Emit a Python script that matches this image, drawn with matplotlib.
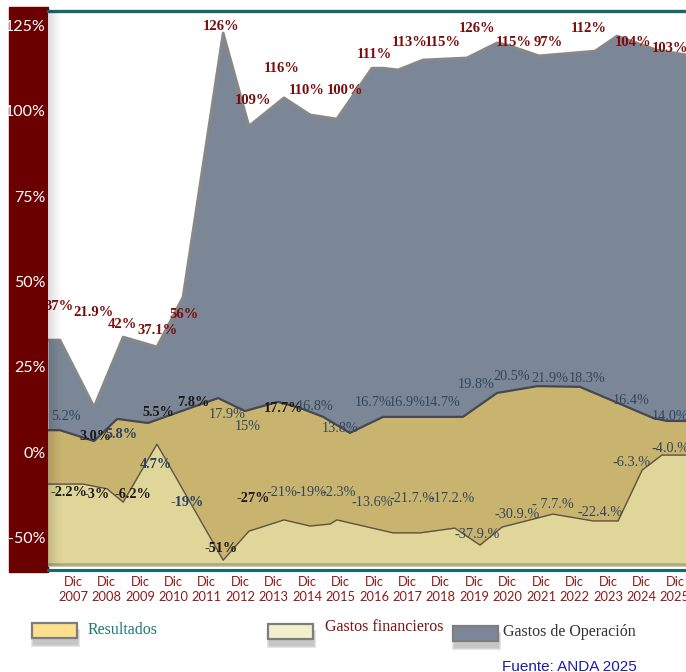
import numpy as np
import matplotlib
matplotlib.use('Agg')
import matplotlib.pyplot as plt
from matplotlib.patches import Rectangle
from matplotlib.lines import Line2D

# Tamaño en pixeles de la imagen
W, H = 686, 672

# Años del eje x
anos = list(range(2007, 2026))

# Gastos de Operación (área gris), x en posición de año (0 = Dic 2007)
gop_x = [-0.75, -0.39, 0.63, 1.50, 2.51, 3.29, 4.49, 5.26, 6.31, 7.09, 7.89, 8.94,
         9.27, 9.72, 10.47, 11.78, 12.68, 12.98, 13.94, 15.61, 16.27, 17.46, 18.33]
gop_y = [32.8, 32.8, 13.2, 33.7, 30.8, 45.4, 122.8, 95.5, 103.8, 98.8, 97.6, 112.5,
         112.5, 112.0, 114.9, 115.5, 119.9, 119.3, 116.1, 117.5, 121.9, 117.8, 116.4]

# Resultados
res_x = [-0.75, -0.39, 0.63, 1.32, 2.24, 4.34, 5.14, 6.13, 6.79, 7.48, 8.28, 9.27,
         11.66, 12.68, 13.88, 15.16, 17.34, 17.76, 18.33]
res_y = [6.4, 6.4, 3.2, 9.7, 8.5, 15.8, 12.0, 14.7, 12.9, 10.3, 5.6, 10.3,
         10.3, 17.3, 19.3, 19.1, 10.0, 9.1, 9.1]

# Gastos financieros
fin_x = [-0.75, 0.30, 1.02, 1.50, 2.51, 4.49, 5.26, 6.31, 7.09, 7.69, 7.89, 9.57,
         10.38, 11.42, 12.17, 12.83, 14.35, 15.55, 16.30, 17.02, 17.61, 18.33]
fin_y = [-9.4, -9.4, -10.8, -14.7, 2.3, -31.7, -23.2, -19.9, -21.7, -21.1, -19.9, -23.7,
         -23.7, -22.3, -27.3, -22.0, -18.2, -20.2, -20.2, -5.3, -0.9, -0.9]

# Etiquetas de cada serie (una por año)
gop_etiquetas = ['37%', '21.9%', '42%', '37.1%', '56%', '126%', '109%', '116%', '110%', '100%',
                 '111%', '113%', '115%', '126%', '115%', '97%', '112%', '104%', '103%']
res_etiquetas = ['5.2%', '3.0%', '5.8%', '5.5%', '7.8%', '17.9%', '15%', '17.7%', '16.8%', '13.8%',
                 '16.7%', '16.9%', '14.7%', '19.8%', '20.5%', '21.9%', '18.3%', '16.4%', '14.0%']
fin_etiquetas = ['-2.2%', '-3%', '-6.2%', '4.7%', '-19%', '-51%', '-27%', '-21%', '-19%', '-2.3%',
                 '-13.6%', '-21.7.%', '-17.2.%', '-37.9.%', '-30.9.%', '- 7.7.%', '-22.4.%', '-6.3.%', '-4.0.%']

# Eje y
y_ticks = [125, 100, 75, 50, 25, 0, -25]
y_etiquetas = ['125%', '100%', '75%', '50%', '25%', '0%', '-50%']

# posiciones de las etiquetas en pixeles de la imagen
gop_pos = [(59, 306), (94, 313), (122, 325), (158, 330), (184, 314), (221, 27), (253, 100),
           (282, 69), (307, 90), (345, 90), (374, 55), (410, 43), (443, 43), (477, 29),
           (514, 42), (548, 42), (589, 28), (633, 43), (670, 48)]
res_pos = [(66, 416), (95, 437), (122, 435), (158, 413), (193, 403), (227, 415), (248, 426),
           (284, 409), (315, 407), (340, 429), (373, 402), (407, 402), (442, 403), (476, 384),
           (512, 376), (550, 379), (587, 379), (631, 400), (670, 416)]
fin_pos = [(69, 493), (97, 494), (133, 494), (156, 464), (187, 503), (221, 548), (253, 498),
           (282, 493), (311, 493), (339, 493), (372, 502), (412, 498), (452, 499), (477, 535),
           (517, 514), (553, 504), (600, 512), (632, 462), (670, 448)]
res_negrita = {1: '#1a1a1a', 3: '#1a1a1a', 4: '#1a1a1a', 7: '#1a1a1a', 2: '#2b4060'}
fin_negrita = {0: '#1a1a1a', 1: '#1a1a1a', 2: '#1a1a1a', 5: '#1a1a1a', 6: '#1a1a1a',
               3: '#2b4060', 4: '#2b4060'}

serif = 'Liberation Serif'

fig = plt.figure(figsize=(W / 100, H / 100), dpi=100)


def fx(px):
    return px / W


def fy(py):
    return 1 - py / H


# conversion de pixeles a datos
def dx(px):
    return (px - 73) / 33.44


def dy(py):
    return (452 - py) / 3.412


ymin, ymax = dy(566), dy(11)

# banda roja del eje y
fig.add_artist(Rectangle((fx(9), fy(572)), fx(48) - fx(9), fy(7) - fy(572),
                         transform=fig.transFigure, color='#6b0000', zorder=-1))

ax = fig.add_axes([fx(48), fy(566), fx(686) - fx(48), fy(11) - fy(566)])

ax.fill_between(gop_x, gop_y, ymin, color='#7b8796', zorder=1, lw=0)
ax.plot(gop_x, gop_y, color='#888888', lw=2, zorder=2)
ax.fill_between(res_x, res_y, ymin, color='#c9b46f', zorder=3, lw=0)
ax.plot(res_x, res_y, color='#474752', lw=1.6, zorder=4)
ax.fill_between(fin_x, fin_y, ymin, color='#e0d699', zorder=5, lw=0)
ax.plot(fin_x, fin_y, color='#5e5442', lw=1, zorder=6)
ax.axhline(ymin + 0.5, color='#aaa48c', lw=1.8, zorder=6)

# sombra a la derecha de la banda
grad = np.zeros((2, 50, 4))
grad[:, :, 3] = np.linspace(0.28, 0, 50) ** 1.5
ax.imshow(grad, extent=(dx(48), dx(64), ymin, ymax), aspect='auto', zorder=9)
ax.set_xlim(dx(48), dx(686))
ax.set_ylim(ymin, ymax)

for i, t in enumerate(gop_etiquetas):
    px, py = gop_pos[i]
    ax.text(dx(px), dy(py), t, ha='center', va='center', color='#7b0c0c',
            fontweight='bold', family=serif, fontsize=10.5, zorder=8, clip_on=True)
for i, t in enumerate(res_etiquetas):
    px, py = res_pos[i]
    c = res_negrita.get(i, '#34465c')
    ax.text(dx(px), dy(py), t, ha='center', va='center', color=c,
            fontweight='bold' if i in res_negrita else 'normal',
            family=serif, fontsize=10.3, zorder=8, clip_on=True)
for i, t in enumerate(fin_etiquetas):
    px, py = fin_pos[i]
    c = fin_negrita.get(i, '#34465c')
    ax.text(dx(px), dy(py), t, ha='center', va='center', color=c,
            fontweight='bold' if i in fin_negrita else 'normal',
            family=serif, fontsize=10.3, zorder=8, clip_on=True)

ax.set_xticks(range(len(anos)))
ax.set_xticklabels(['Dic\n%d' % a for a in anos], color='#8b1a1a', family='Lato',
                   fontsize=9.3, linespacing=1.35)
ax.set_yticks(y_ticks)
ax.set_yticklabels(y_etiquetas, color='white', family='Lato', fontsize=11.5)
ax.tick_params(axis='both', length=0)
ax.tick_params(axis='x', pad=7)
ax.tick_params(axis='y', pad=1.5)

for s in ['left', 'right', 'bottom']:
    ax.spines[s].set_visible(False)
ax.spines['top'].set_color('#17686c')
ax.spines['top'].set_linewidth(2.4)

# linea inferior
fig.add_artist(Line2D([fx(48), fx(686)], [fy(569.5), fy(569.5)], transform=fig.transFigure,
                      color='#17686c', lw=2.2))

# leyenda
leyenda = [('Resultados', '#fde08d', '#1f7878', (32, 623), (88, 630)),
           ('Gastos financieros', '#f3efcd', '#7a1414', (268, 624), (325, 627)),
           ('Gastos de Operación', '#7b8796', '#333333', (453, 626), (503, 632))]
for nombre, relleno, ctexto, (px, py), (tx, ty) in leyenda:
    for k, a in enumerate([0.06, 0.08, 0.1]):
        fig.add_artist(Rectangle((fx(px + 1 - k), fy(py + 22 + k)), (45 + 2 * k) / W, (14 + 2 * k) / H,
                                 transform=fig.transFigure, color='black', alpha=a, lw=0))
    fig.add_artist(Rectangle((fx(px), fy(py + 15)), 45 / W, 15 / H, transform=fig.transFigure,
                             facecolor=relleno, edgecolor='#7d7d7d', lw=1.6))
    fig.text(fx(tx), fy(ty), nombre, ha='left', va='center', color=ctexto,
             family=serif, fontsize=11.5)

fig.text(fx(502), fy(667), 'Fuente: ANDA 2025', ha='left', va='center', color='#1c1ca8',
         family='Liberation Sans', fontsize=11)

fig.savefig('out.png', dpi=100)
